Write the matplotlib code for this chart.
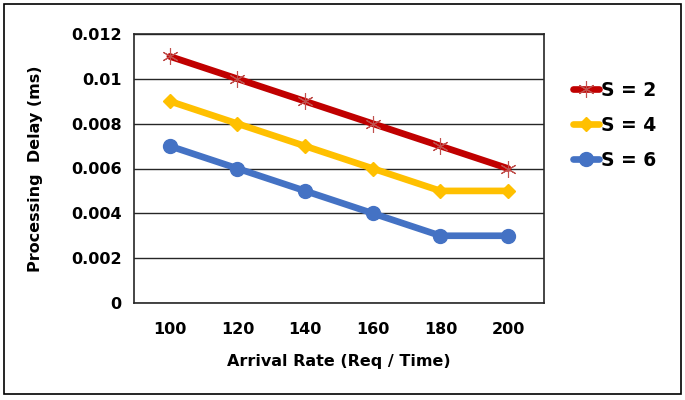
import matplotlib
matplotlib.use("Agg")
from matplotlib import pyplot as plt
from matplotlib.patches import Rectangle

rates = [100, 120, 140, 160, 180, 200]
s2 = [0.011, 0.010, 0.009, 0.008, 0.007, 0.006]
s4 = [0.009, 0.008, 0.007, 0.006, 0.005, 0.005]
s6 = [0.007, 0.006, 0.005, 0.004, 0.003, 0.003]
yticks = [0, 0.002, 0.004, 0.006, 0.008, 0.01, 0.012]
ylabels = ["0", "0.002", "0.004", "0.006", "0.008", "0.01", "0.012"]

plt.rcParams["font.family"] = "DejaVu Sans"
plt.rcParams["font.weight"] = "bold"

fig = plt.figure(figsize=(6.85, 4.0), dpi=100)
ax = fig.add_axes([0.1956, 0.2425, 0.5985, 0.6725])

x = list(range(len(rates)))
ax.plot(x, s2, color="#C00000", lw=4.8, marker=(6, 2, 0), ms=12, mec="#C0504D",
        mew=0.8, label="S = 2", solid_capstyle="round", zorder=3)
ax.plot(x, s4, color="#FFC000", lw=4.8, marker="D", ms=7, mec="#FFC000",
        label="S = 4", solid_capstyle="round", zorder=3)
ax.plot(x, s6, color="#4472C4", lw=4.8, marker="o", ms=10, mec="#4472C4",
        label="S = 6", solid_capstyle="round", zorder=3)

ax.set_xlim(-0.53, 5.53)
ax.set_ylim(0, 0.012)
ax.set_xticks(x)
ax.set_xticklabels([str(r) for r in rates])
ax.set_yticks(yticks)
ax.set_yticklabels(ylabels)
ax.tick_params(length=0, labelsize=11.5)
ax.tick_params(axis="x", pad=14)
ax.tick_params(axis="y", pad=9)
ax.grid(axis="y", color="#262626", lw=1.0)
ax.set_axisbelow(True)
for sp in ax.spines.values():
    sp.set_color("#262626")
    sp.set_linewidth(1.2)

ax.set_xlabel("Arrival Rate (Req / Time)", fontsize=11.5, fontweight="bold", labelpad=12)
ax.set_ylabel("Processing  Delay (ms)", fontsize=11.5, fontweight="bold", labelpad=20)

leg = ax.legend(loc="center left", bbox_to_anchor=(1.03, 0.66), frameon=False,
                fontsize=13.5, handlelength=1.4, handletextpad=0.1, labelspacing=0.85)
for t in leg.get_texts():
    t.set_fontweight("bold")

fig.patches.append(Rectangle((0.006, 0.015), 0.988, 0.975, transform=fig.transFigure,
                             fill=False, edgecolor="black", lw=1.2))

fig.savefig("out.png", dpi=100)
